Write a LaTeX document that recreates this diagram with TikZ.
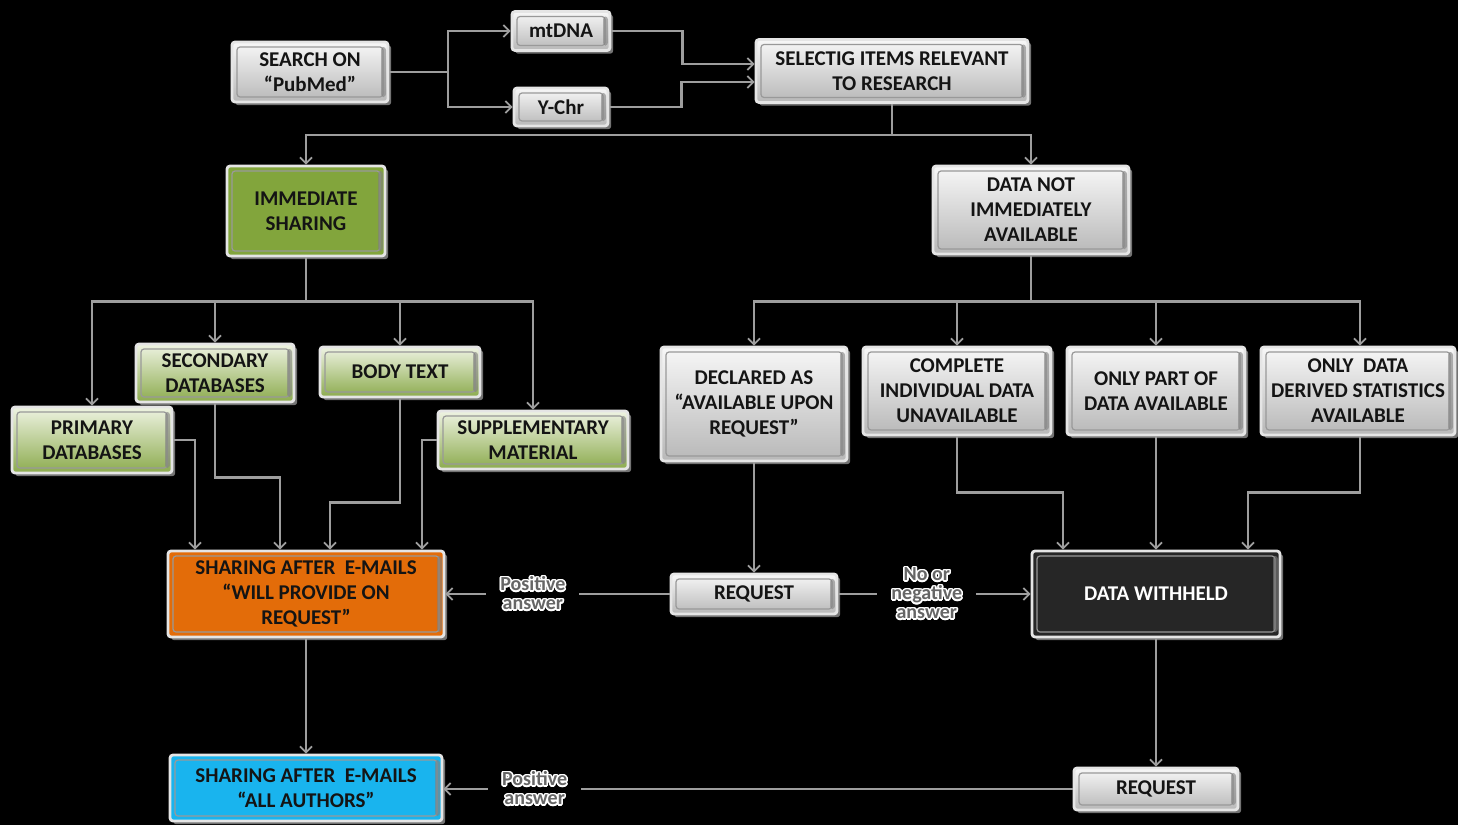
\documentclass[tikz,border=0pt]{standalone}
\usepackage{fontspec}
\setmainfont{Carlito}
\usepackage{contour}
\contourlength{0.8pt}
\usetikzlibrary{arrows.meta,shadows,calc}
\definecolor{orng}{HTML}{E36C09}
\definecolor{grn}{HTML}{82A53C}
\definecolor{blu}{HTML}{19B4EE}
\definecolor{lgrn}{HTML}{EEF3E2}
\definecolor{dgrn}{HTML}{8CAB4E}
\newcommand{\olt}[1]{\contour{white}{#1}}
\begin{document}
\begin{tikzpicture}[x=0.5pt,y=-0.5pt,
  box/.style={rounded corners=1.5pt, draw=white!90!black, line width=1.4pt, align=center,
    font=\bfseries\fontsize{10.5}{12.5}\selectfont, text=black!92, inner sep=2pt,
    general shadow={fill=black!55, shadow xshift=1.6pt, shadow yshift=-1.6pt},
    path picture={
      \draw[black!40, line width=0.6pt] ([xshift=2.5pt,yshift=-2.5pt]path picture bounding box.north west) rectangle ([xshift=-2.5pt,yshift=2.5pt]path picture bounding box.south east);
      \fill[black!50, opacity=0.6] ([xshift=-3.5pt,yshift=-2.5pt]path picture bounding box.north east) rectangle ([xshift=-1pt,yshift=2.5pt]path picture bounding box.south east);}},
  gbox/.style={box, top color=black!3, bottom color=black!28},
  sgbox/.style={box, top color=lgrn, bottom color=dgrn},
  conn/.style={draw=black!38, line width=1.2pt},
  arr/.style={conn, -{Straight Barb[length=3pt,width=6pt,line width=0.9pt]}},
  lbl/.style={fill=black, inner xsep=7pt, inner ysep=1pt, align=center, text=black!60, font=\bfseries\fontsize{10}{9.5}\selectfont}
]
\fill[black] (0,0) rectangle (1458,825);
\useasboundingbox (0,0) rectangle (1458,825);

% nodes
\node[gbox, minimum width=78pt, minimum height=30pt] (search) at (310,72) {SEARCH ON\\``PubMed''};
\node[gbox, minimum width=49pt, minimum height=19.5pt] (mtdna) at (561,31) {mtDNA};
\node[gbox, minimum width=47pt, minimum height=19pt] (ychr) at (561,107) {Y-Chr};
\node[gbox, minimum width=136pt, minimum height=31.5pt] (sel) at (892,71) {SELECTIG ITEMS RELEVANT\\TO RESEARCH};
\node[box, fill=grn, minimum width=79pt, minimum height=45pt] (imm) at (306,211) {IMMEDIATE\\SHARING};
\node[gbox, minimum width=98pt, minimum height=44pt] (dna) at (1031,210) {DATA NOT\\IMMEDIATELY\\AVAILABLE};
\node[sgbox, minimum width=79pt, minimum height=29pt] (sec) at (215,373) {SECONDARY\\DATABASES};
\node[sgbox, minimum width=80pt, minimum height=25pt] (body) at (400,372) {BODY TEXT};
\node[sgbox, minimum width=80pt, minimum height=33pt] (prim) at (92,440) {PRIMARY\\DATABASES};
\node[sgbox, minimum width=95pt, minimum height=29pt] (supp) at (533,440) {SUPPLEMENTARY\\MATERIAL};
\node[gbox, minimum width=93pt, minimum height=57pt] (dec) at (754,404) {DECLARED AS\\``AVAILABLE UPON\\REQUEST''};
\node[gbox, minimum width=94pt, minimum height=44pt] (comp) at (957,391) {COMPLETE\\INDIVIDUAL DATA\\UNAVAILABLE};
\node[gbox, minimum width=89pt, minimum height=44pt] (part) at (1156,391) {ONLY PART OF\\DATA AVAILABLE};
\node[gbox, minimum width=97pt, minimum height=44pt] (deriv) at (1358,391) {ONLY~ DATA\\DERIVED STATISTICS\\AVAILABLE};
\node[box, fill=orng, minimum width=138pt, minimum height=43pt] (shar) at (306,594) {SHARING AFTER~ E-MAILS\\``WILL PROVIDE ON\\REQUEST''};
\node[gbox, minimum width=83pt, minimum height=20pt] (req1) at (754,594) {REQUEST};
\node[box, fill=black!85, text=white, minimum width=124pt, minimum height=43pt] (wh) at (1156,594) {DATA WITHHELD};
\node[box, fill=blu, minimum width=136pt, minimum height=33pt] (blue) at (306,788) {SHARING AFTER~ E-MAILS\\``ALL AUTHORS''};
\node[gbox, minimum width=82pt, minimum height=21pt] (req2) at (1156,789) {REQUEST};

% connectors
\coordinate (sb) at (448,72);
\draw[conn] (search.east) -- (sb);
\draw[arr] (sb) |- (mtdna.west);
\draw[arr] (sb) |- (ychr.west);
\draw[arr] (mtdna.east) -- ++(71,0) |- ([yshift=3.5pt]sel.west);
\draw[arr] (ychr.east) -- ++(72,0) |- ([yshift=-5.5pt]sel.west);
\draw[arr] (sel.south) -- ++(0,31) -| (imm.north);
\draw[arr] (sel.south) -- ++(0,31) -| (dna.north);

\draw[arr] (imm.south) -- ++(0,44) -| (prim.north);
\draw[arr] (imm.south) -- ++(0,44) -| (sec.north);
\draw[arr] (imm.south) -- ++(0,44) -| (body.north);
\draw[arr] (imm.south) -- ++(0,44) -| (supp.north);

\draw[arr] (prim.east) -| ([xshift=-55.5pt]shar.north);
\draw[arr] (sec.south) -- ++(0,74) -| ([xshift=-13pt]shar.north);
\draw[arr] (body.south) -- ++(0,104) -| ([xshift=12pt]shar.north);
\draw[arr] (supp.west) -| ([xshift=58pt]shar.north);

\draw[arr] (dna.south) -- ++(0,46) -| (dec.north);
\draw[arr] (dna.south) -- ++(0,46) -| (comp.north);
\draw[arr] (dna.south) -- ++(0,46) -| (part.north);
\draw[arr] (dna.south) -- ++(0,46) -| ([xshift=1pt]deriv.north);

\draw[arr] (dec.south) -- (req1.north);
\draw[arr] (comp.south) -- ++(0,56) -| ([xshift=-46.5pt]wh.north);
\draw[arr] (part.south) -- (wh.north);
\draw[arr] ([xshift=1pt]deriv.south) -- ++(0,56) -| ([xshift=46pt]wh.north);

\draw[arr] (req1.west) -- node[lbl, pos=0.61] {\olt{Positive}\\\olt{answer}} (shar.east);
\draw[arr] (req1.east) -- node[lbl, pos=0.46] {\olt{No or}\\\olt{negative}\\\olt{answer}} (wh.west);
\draw[arr] (shar.south) -- (blue.north);
\draw[arr] (wh.south) -- (req2.north);
\draw[arr] (req2.west) -- node[lbl, pos=0.855] {\olt{Positive}\\\olt{answer}} (req2.west -| blue.east);
\end{tikzpicture}
\end{document}
